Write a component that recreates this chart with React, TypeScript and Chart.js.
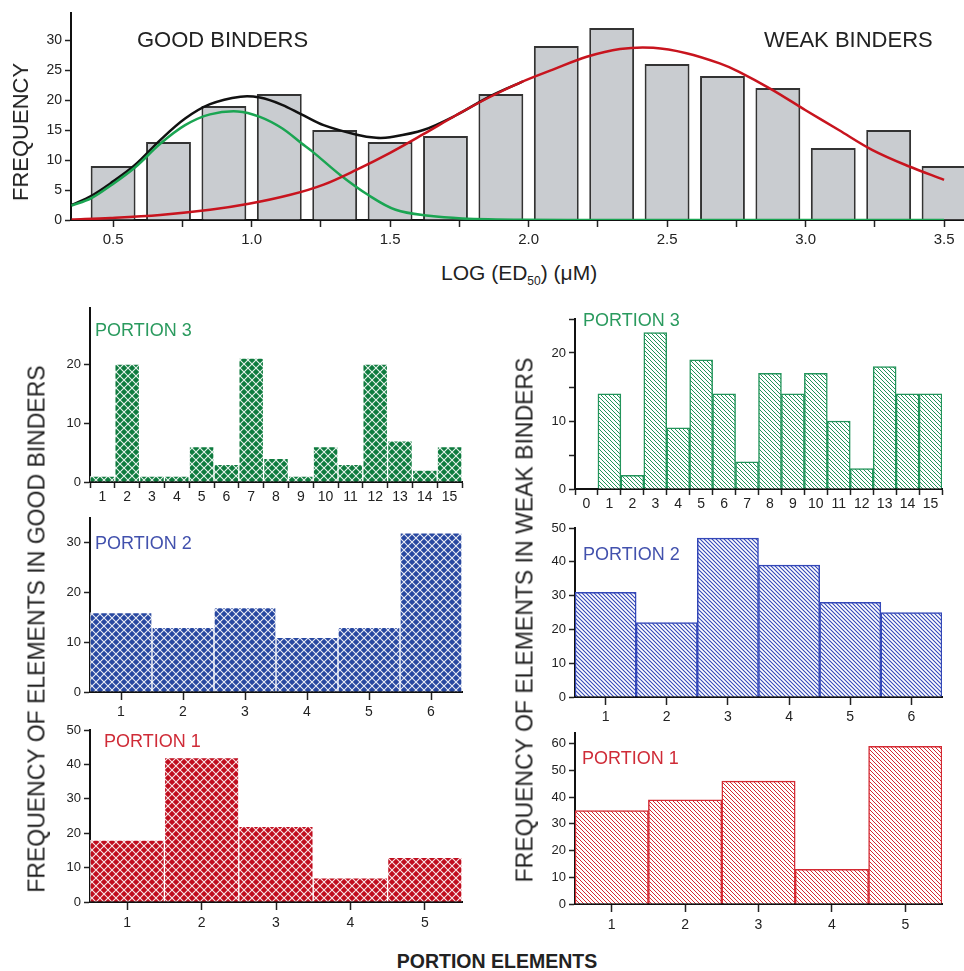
import React, { useEffect, useRef } from 'react';
import { Chart, registerables } from 'chart.js';
Chart.register(...registerables);

// ---------- Top histogram data ----------
const binCenters = [0.5, 0.7, 0.9, 1.1, 1.3, 1.5, 1.7, 1.9, 2.1, 2.3, 2.5, 2.7, 2.9, 3.1, 3.3, 3.5];
const binCounts = [9, 13, 19, 21, 15, 13, 14, 21, 29, 32, 26, 24, 22, 12, 15, 9];

const sumCurveX = [0.35, 0.42, 0.49, 0.58, 0.67, 0.76, 0.85, 0.96, 1.03, 1.11, 1.18, 1.26, 1.38, 1.45, 1.5, 1.62, 1.74, 1.86, 1.98];
const sumCurveY = [2.5, 4.0, 6.1, 9.2, 13.3, 16.9, 19.3, 20.55, 20.4, 19.2, 17.6, 15.8, 14.2, 13.7, 13.8, 15.0, 17.5, 20.6, 23.1];

const goodCurveX = [0.35, 0.42, 0.49, 0.58, 0.67, 0.76, 0.85, 0.95, 1.03, 1.11, 1.18, 1.22, 1.32, 1.42, 1.52, 1.64, 1.76, 1.98, 2.3, 3.5];
const goodCurveY = [2.4, 3.6, 5.7, 8.8, 12.7, 15.8, 17.6, 18.1, 17.2, 15.3, 12.8, 11.4, 7.5, 4.2, 1.7, 0.7, 0.27, 0.05, 0, 0];

const weakCurveX = [0.35, 0.49, 0.67, 0.85, 0.99, 1.14, 1.26, 1.38, 1.5, 1.62, 1.74, 1.86, 1.97, 2.09, 2.21, 2.33, 2.45, 2.57, 2.69, 2.76, 2.88, 3.0, 3.12, 3.24, 3.37, 3.5];
const weakCurveY = [0.1, 0.35, 0.85, 1.7, 2.7, 4.2, 5.9, 8.4, 11.2, 14.3, 17.5, 20.5, 22.9, 25.1, 27.2, 28.5, 28.7, 27.8, 26.1, 24.7, 21.7, 18.3, 15.0, 11.7, 9.0, 6.7];

// ---------- Portion panels data ----------
const goodP3Labels = ['1', '2', '3', '4', '5', '6', '7', '8', '9', '10', '11', '12', '13', '14', '15'];
const goodP3Values = [1, 20, 1, 1, 6, 3, 21, 4, 1, 6, 3, 20, 7, 2, 6];
const weakP3Labels = ['0', '1', '2', '3', '4', '5', '6', '7', '8', '9', '10', '11', '12', '13', '14', '15'];
const weakP3Values = [0, 14, 2, 23, 9, 19, 14, 4, 17, 14, 17, 10, 3, 18, 14, 14];

const goodP2Labels = ['1', '2', '3', '4', '5', '6'];
const goodP2Values = [16, 13, 17, 11, 13, 32];
const weakP2Labels = ['1', '2', '3', '4', '5', '6'];
const weakP2Values = [31, 22, 47, 39, 28, 25];

const goodP1Labels = ['1', '2', '3', '4', '5'];
const goodP1Values = [18, 42, 22, 7, 13];
const weakP1Labels = ['1', '2', '3', '4', '5'];
const weakP1Values = [35, 39, 46, 13, 59];

const FONT = '"Liberation Sans", Arial, Helvetica, sans-serif';
const INK = '#222';

function crossPattern(bg: string) {
  const c = document.createElement('canvas');
  c.width = 8; c.height = 8;
  const g = c.getContext('2d')!;
  g.fillStyle = bg; g.fillRect(0, 0, 8, 8);
  g.strokeStyle = 'rgba(255,255,255,0.9)';
  g.lineWidth = 1.1;
  g.beginPath();
  g.moveTo(-1, -1); g.lineTo(9, 9);
  g.moveTo(-1, 9); g.lineTo(9, -1);
  g.stroke();
  return g.createPattern(c, 'repeat')!;
}

function hatchPattern(color: string, lw: number) {
  const c = document.createElement('canvas');
  c.width = 4; c.height = 4;
  const g = c.getContext('2d')!;
  g.fillStyle = '#fff'; g.fillRect(0, 0, 4, 4);
  g.strokeStyle = color;
  g.lineWidth = lw;
  g.beginPath();
  g.moveTo(-1, -1); g.lineTo(5, 5);
  g.moveTo(-1, 3); g.lineTo(1, 5);
  g.moveTo(3, -1); g.lineTo(5, 1);
  g.stroke();
  return g.createPattern(c, 'repeat')!;
}

type PanelSpec = {
  labels: string[]; values: number[];
  fill: any; border: string; borderWidth: number;
  yMax: number; yStep: number; labelEvery: number;
  edgeTicks: boolean; xFont: number; xTick: number; xPad: number; yFont: number;
};

function panelConfig(p: PanelSpec): any {
  return {
    type: 'bar',
    data: {
      labels: p.labels,
      datasets: [{
        data: p.values, backgroundColor: p.fill, borderColor: p.border, borderWidth: p.borderWidth,
        categoryPercentage: 1, barPercentage: 1,
      }],
    },
    options: {
      animation: false, responsive: false, maintainAspectRatio: false,
      layout: { padding: { top: 12, right: 4, left: 0, bottom: 0 } },
      plugins: { legend: { display: false }, tooltip: { enabled: false } },
      scales: {
        x: {
          offset: true,
          grid: { display: true, drawOnChartArea: false, offset: p.edgeTicks, tickLength: p.xTick, tickColor: INK, tickWidth: 1.5 },
          border: { color: '#111', width: 2 },
          ticks: { autoSkip: false, maxRotation: 0, padding: p.xPad, color: INK, font: { family: FONT, size: p.xFont } },
          afterFit: (s: any) => { s.height = 40; },
        },
        y: {
          min: 0, max: p.yMax,
          grid: { display: true, drawOnChartArea: false, tickLength: 6, tickColor: INK, tickWidth: 1.5 },
          border: { color: '#111', width: 2 },
          ticks: {
            stepSize: p.yStep, includeBounds: false, padding: 3, color: INK,
            font: { family: FONT, size: p.yFont },
            callback: (v: any) => (Math.abs(v % p.labelEvery) < 1e-6 ? String(v) : ''),
          },
          afterFit: (s: any) => { s.width = 50; },
        },
      },
    },
  };
}

function pts(xs: number[], ys: number[]) {
  return xs.map((x, i) => ({ x, y: ys[i] }));
}

function curve(xs: number[], ys: number[], color: string, order: number) {
  return {
    type: 'line', data: pts(xs, ys), borderColor: color, borderWidth: 2.5, pointRadius: 0,
    tension: 0.35, fill: false, order,
  };
}

function topConfig(): any {
  return {
    type: 'bar',
    data: {
      datasets: [
        {
          type: 'bar', data: pts(binCenters, binCounts), backgroundColor: '#c9ccd0', borderColor: '#333',
          borderWidth: 2, categoryPercentage: 1, barPercentage: 0.81, order: 4,
        },
        curve(sumCurveX, sumCurveY, '#111', 3),
        curve(goodCurveX, goodCurveY, '#1aa552', 2),
        curve(weakCurveX, weakCurveY, '#c8141e', 1),
      ],
    },
    options: {
      animation: false, responsive: false, maintainAspectRatio: false,
      layout: { padding: { top: 12, right: 0, left: 0, bottom: 0 } },
      plugins: { legend: { display: false }, tooltip: { enabled: false } },
      scales: {
        x: {
          type: 'linear', min: 0.348, max: 3.572, offset: false,
          grid: { display: true, offset: false, drawOnChartArea: false, tickLength: 7, tickColor: INK, tickWidth: 1.5 },
          border: { color: '#111', width: 2 },
          ticks: {
            stepSize: 0.25, includeBounds: false, autoSkip: false, maxRotation: 0, padding: 4, color: INK,
            font: { family: FONT, size: 15 },
            callback: (v: any) => (Math.abs(v * 2 - Math.round(v * 2)) < 1e-6 ? Number(v).toFixed(1) : ''),
          },
          afterFit: (s: any) => { s.height = 35; },
        },
        y: {
          min: 0, max: 34.5,
          grid: { display: true, drawOnChartArea: false, tickLength: 6, tickColor: INK, tickWidth: 1.5 },
          border: { color: '#111', width: 2 },
          ticks: { stepSize: 5, includeBounds: false, padding: 3, color: INK, font: { family: FONT, size: 14 } },
          afterFit: (s: any) => { s.width = 50; },
        },
      },
    },
  };
}

type Frame = { left: number; top: number; width: number; height: number };
const frames: Frame[] = [
  { left: 21, top: 1, width: 943, height: 254 },   // top
  { left: 40, top: 296, width: 426, height: 226 },  // good P3
  { left: 525, top: 307, width: 421, height: 222 }, // weak P3
  { left: 40, top: 506, width: 426, height: 226 },  // good P2
  { left: 525, top: 516, width: 421, height: 221 }, // weak P2
  { left: 40, top: 718, width: 426, height: 224 },  // good P1
  { left: 525, top: 721, width: 421, height: 223 }, // weak P1
];

function Txt(props: { x: number; y: number; size: number; color?: string; bold?: boolean; rotate?: boolean; align?: 'left' | 'center'; children: any }) {
  const { x, y, size, color = INK, bold, rotate, align = 'left', children } = props;
  const tx = align === 'center' ? '-50%' : '0';
  return (
    <div
      style={{
        position: 'absolute', left: x, top: y, fontFamily: FONT, fontSize: size, lineHeight: `${size}px`,
        color, fontWeight: bold ? 'bold' : 'normal', whiteSpace: 'nowrap',
        transform: rotate ? 'translate(-50%,-50%) rotate(-90deg)' : `translate(${tx},-50%)`,
      }}
    >
      {children}
    </div>
  );
}

export default function App() {
  const refs = useRef<(HTMLCanvasElement | null)[]>([]);

  useEffect(() => {
    const green = '#0e7b3e', blue = '#2747a0', red = '#c00d1e';
    const gLine = '#22945a', bLine = '#3448b8', rLine = '#d42a33';
    const configs = [
      topConfig(),
      panelConfig({ labels: goodP3Labels, values: goodP3Values, fill: crossPattern(green), border: 'rgba(255,255,255,0.7)', borderWidth: 1, yMax: 29.5, yStep: 10, labelEvery: 10, edgeTicks: true, xFont: 14, xTick: 6, xPad: 1, yFont: 13 }),
      panelConfig({ labels: weakP3Labels, values: weakP3Values, fill: hatchPattern(gLine, 1), border: gLine, borderWidth: 1.5, yMax: 25, yStep: 5, labelEvery: 10, edgeTicks: true, xFont: 14, xTick: 6, xPad: 1, yFont: 13 }),
      panelConfig({ labels: goodP2Labels, values: goodP2Values, fill: crossPattern(blue), border: 'rgba(255,255,255,0.7)', borderWidth: 1, yMax: 35, yStep: 10, labelEvery: 10, edgeTicks: false, xFont: 14, xTick: 8, xPad: 4, yFont: 13 }),
      panelConfig({ labels: weakP2Labels, values: weakP2Values, fill: hatchPattern(bLine, 1.1), border: bLine, borderWidth: 1.5, yMax: 50, yStep: 5, labelEvery: 10, edgeTicks: false, xFont: 14, xTick: 8, xPad: 4, yFont: 13 }),
      panelConfig({ labels: goodP1Labels, values: goodP1Values, fill: crossPattern(red), border: 'rgba(255,255,255,0.7)', borderWidth: 1, yMax: 50, yStep: 10, labelEvery: 10, edgeTicks: false, xFont: 14, xTick: 8, xPad: 5, yFont: 13 }),
      panelConfig({ labels: weakP1Labels, values: weakP1Values, fill: hatchPattern(rLine, 1), border: rLine, borderWidth: 1.5, yMax: 64, yStep: 5, labelEvery: 10, edgeTicks: false, xFont: 14, xTick: 8, xPad: 5, yFont: 13 }),
    ];
    const charts = configs.map((cfg, i) => new Chart(refs.current[i]!, cfg));
    return () => charts.forEach((c) => c.destroy());
  }, []);

  return (
    <div style={{ position: 'absolute', left: 0, top: 0, width: 964, height: 971, overflow: 'hidden', background: '#fff' }}>
      {frames.map((f, i) => (
        <canvas
          key={i}
          ref={(el) => { refs.current[i] = el; }}
          width={f.width}
          height={f.height}
          style={{ position: 'absolute', left: f.left, top: f.top, width: f.width, height: f.height }}
        />
      ))}
      <Txt x={21} y={132} size={22} rotate>FREQUENCY</Txt>
      <Txt x={137} y={40} size={22}>GOOD BINDERS</Txt>
      <Txt x={764} y={40} size={22}>WEAK BINDERS</Txt>
      <Txt x={441} y={274} size={21}>
        LOG (ED<sub style={{ fontSize: 12, verticalAlign: 'baseline', position: 'relative', top: 5 }}>50</sub>) (μM)
      </Txt>

      <Txt x={95} y={330} size={18} color="#2a9a5e">PORTION 3</Txt>
      <Txt x={583} y={320} size={18} color="#2a9a5e">PORTION 3</Txt>
      <Txt x={95} y={543} size={18} color="#4251ad">PORTION 2</Txt>
      <Txt x={583} y={554} size={18} color="#4251ad">PORTION 2</Txt>
      <Txt x={104} y={741} size={18} color="#cf2b37">PORTION 1</Txt>
      <Txt x={582} y={758} size={18} color="#cf2b37">PORTION 1</Txt>

      <Txt x={37} y={629} size={23} rotate>FREQUENCY OF ELEMENTS IN GOOD BINDERS</Txt>
      <Txt x={525} y={620} size={23} rotate>FREQUENCY OF ELEMENTS IN WEAK BINDERS</Txt>
      <Txt x={497} y={962} size={19.5} bold align="center">PORTION ELEMENTS</Txt>
    </div>
  );
}
